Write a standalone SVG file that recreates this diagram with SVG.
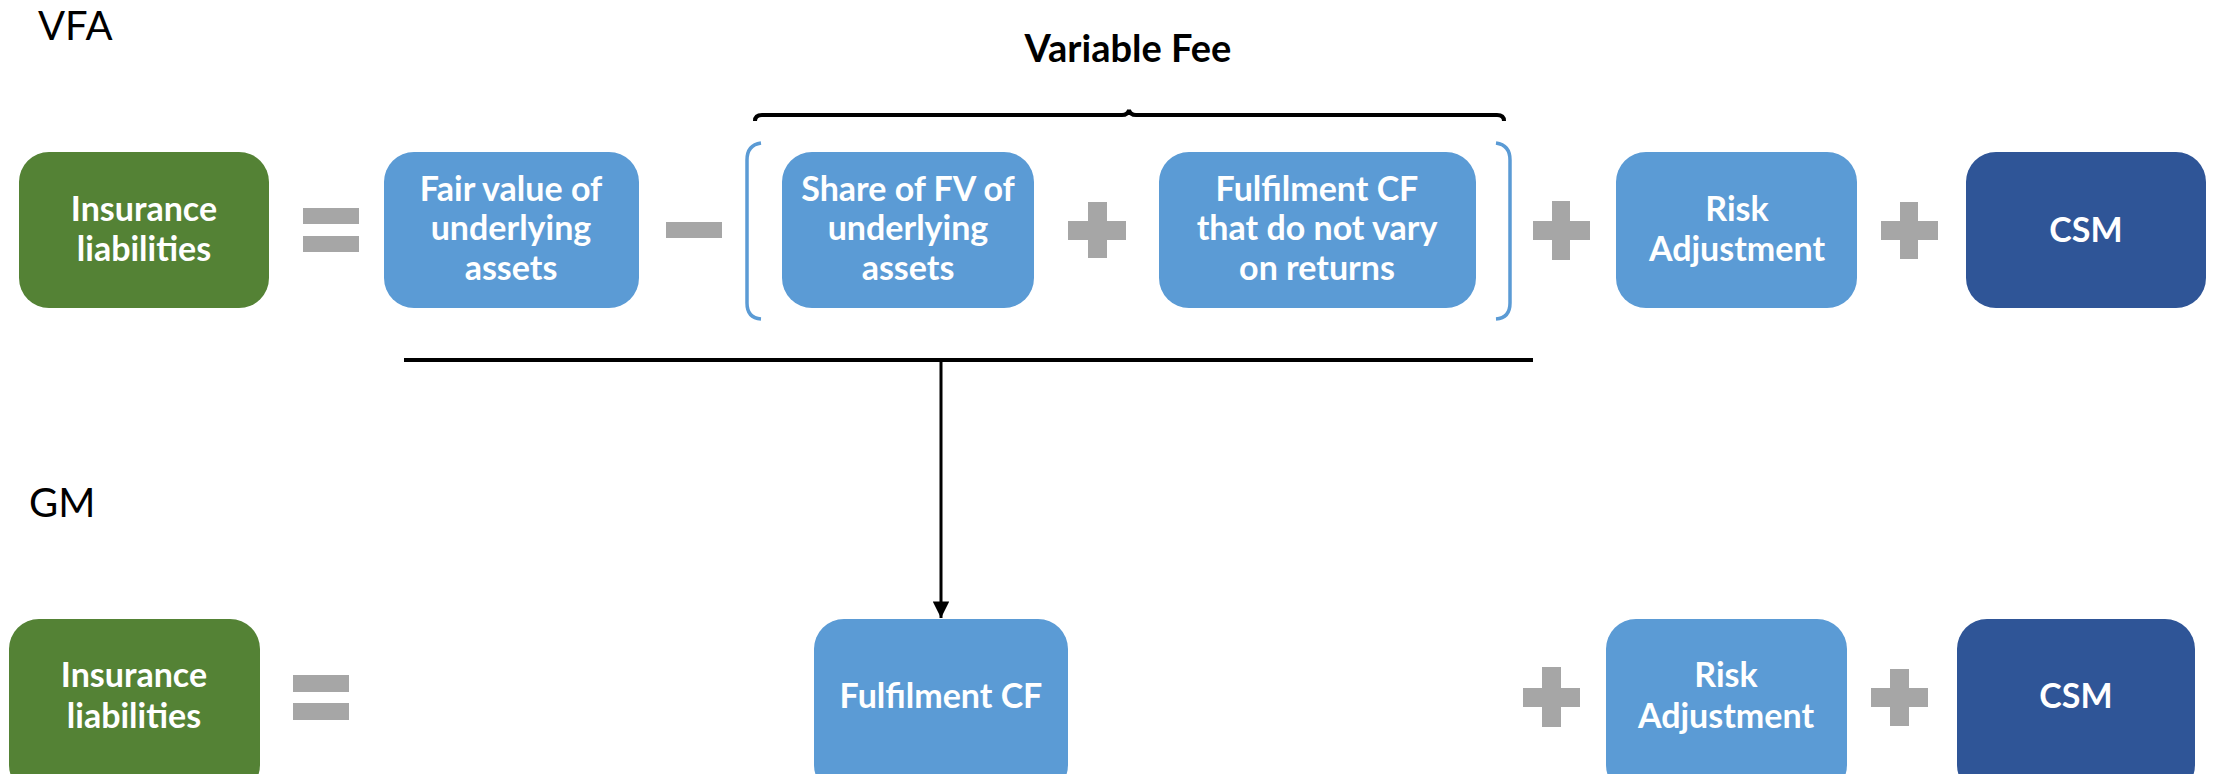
<svg xmlns="http://www.w3.org/2000/svg" width="2215" height="774" viewBox="0 0 2215 774">
  <defs>
    <marker id="arrowHead" viewBox="0 0 10 10" refX="10" refY="5" markerWidth="6" markerHeight="5.5" markerUnits="strokeWidth" orient="auto">
      <path d="M0,0 L10,5 L0,10 Z" fill="#000"/>
    </marker>
  </defs>
  <style>
    .green { fill: #548235; }
    .light { fill: #5b9bd5; }
    .dark { fill: #2f5597; }
    .op { fill: #a6a6a6; }
    .lbl { font-family: Lato, "Open Sans", "Liberation Sans", sans-serif; font-weight: 700; font-size: 34px; fill: #ffffff; text-anchor: middle; }
    .title { font-family: Lato, "Open Sans", "Liberation Sans", sans-serif; font-size: 40px; fill: #000; }
    .brace { fill: none; stroke: #000; stroke-width: 4; }
    .paren { fill: none; stroke: #5b9bd5; stroke-width: 3.5; }
    .link { fill: none; stroke: #000; stroke-width: 3; }
  </style>

  <rect width="2215" height="774" fill="#ffffff"/>

  <!-- section titles -->
  <text class="title" x="38" y="40">VFA</text>
  <text class="title" x="29" y="517">GM</text>

  <!-- Variable Fee brace and label -->
  <g id="variable-fee">
    <text x="1128" y="62" font-family="Lato, 'Open Sans', 'Liberation Sans', sans-serif" font-weight="700" font-size="38" text-anchor="middle" fill="#000">Variable Fee</text>
    <path class="brace" d="M755,121 Q755,115 762,115 L1122,115 Q1128,115 1129,110 Q1130,115 1136,115 L1497,115 Q1504,115 1504,121"/>
    <path class="paren" d="M761,143 Q747,145 747,160 L747,303 Q747,318 761,319"/>
    <path class="paren" d="M1496,143 Q1510,145 1510,160 L1510,303 Q1510,318 1496,319"/>
  </g>

  <!-- VFA row -->
  <g id="vfa-liabilities">
    <rect class="green" x="19" y="152" width="250" height="156" rx="30"/>
    <text class="lbl" x="144" y="221">Insurance</text>
    <text class="lbl" x="144" y="261">liabilities</text>
  </g>
  <g id="vfa-eq" class="op">
    <rect x="303" y="208" width="56" height="16"/>
    <rect x="303" y="236" width="56" height="16"/>
  </g>
  <g id="vfa-fv-assets">
    <rect class="light" x="384" y="152" width="255" height="156" rx="30"/>
    <text class="lbl" x="511" y="201">Fair value of</text>
    <text class="lbl" x="511" y="240">underlying</text>
    <text class="lbl" x="511" y="280">assets</text>
  </g>
  <g id="vfa-minus" class="op">
    <rect x="666" y="222" width="56" height="16"/>
  </g>
  <g id="vfa-share-fv">
    <rect class="light" x="782" y="152" width="252" height="156" rx="30"/>
    <text class="lbl" x="908" y="201">Share of FV of</text>
    <text class="lbl" x="908" y="240">underlying</text>
    <text class="lbl" x="908" y="280">assets</text>
  </g>
  <g id="vfa-plus1" class="op">
    <rect x="1088" y="202" width="19" height="56"/>
    <rect x="1068" y="221" width="58" height="19"/>
  </g>
  <g id="vfa-fulfilment-cf">
    <rect class="light" x="1159" y="152" width="317" height="156" rx="30"/>
    <text class="lbl" x="1317" y="201">Fulfilment CF</text>
    <text class="lbl" x="1317" y="240">that do not vary</text>
    <text class="lbl" x="1317" y="280">on returns</text>
  </g>
  <g id="vfa-plus2" class="op">
    <rect x="1552" y="201" width="18" height="59"/>
    <rect x="1533" y="221" width="57" height="19"/>
  </g>
  <g id="vfa-risk-adjustment">
    <rect class="light" x="1616" y="152" width="241" height="156" rx="30"/>
    <text class="lbl" x="1737" y="221">Risk</text>
    <text class="lbl" x="1737" y="261">Adjustment</text>
  </g>
  <g id="vfa-plus3" class="op">
    <rect x="1900" y="202" width="18" height="57"/>
    <rect x="1881" y="221" width="57" height="19"/>
  </g>
  <g id="vfa-csm">
    <rect class="dark" x="1966" y="152" width="240" height="156" rx="30"/>
    <text class="lbl" x="2086" y="242">CSM</text>
  </g>

  <!-- GM row -->
  <g id="gm-liabilities">
    <rect class="green" x="9" y="619" width="251" height="176" rx="30"/>
    <text class="lbl" x="134" y="687">Insurance</text>
    <text class="lbl" x="134" y="728">liabilities</text>
  </g>
  <g id="gm-eq" class="op">
    <rect x="293" y="675" width="56" height="17"/>
    <rect x="293" y="703" width="56" height="17"/>
  </g>
  <g id="gm-fulfilment-cf">
    <rect class="light" x="814" y="619" width="254" height="176" rx="30"/>
    <text class="lbl" x="941" y="708">Fulfilment CF</text>
  </g>
  <g id="gm-plus1" class="op">
    <rect x="1542" y="667" width="19" height="60"/>
    <rect x="1523" y="688" width="57" height="19"/>
  </g>
  <g id="gm-risk-adjustment">
    <rect class="light" x="1606" y="619" width="241" height="176" rx="30"/>
    <text class="lbl" x="1726" y="687">Risk</text>
    <text class="lbl" x="1726" y="728">Adjustment</text>
  </g>
  <g id="gm-plus2" class="op">
    <rect x="1890" y="669" width="19" height="57"/>
    <rect x="1871" y="688" width="57" height="19"/>
  </g>
  <g id="gm-csm">
    <rect class="dark" x="1957" y="619" width="238" height="176" rx="30"/>
    <text class="lbl" x="2076" y="708">CSM</text>
  </g>

  <!-- connectors -->
  <g id="connectors">
    <line x1="404" y1="360" x2="1533" y2="360" stroke="#000" stroke-width="4"/>
    <line class="link" x1="941" y1="360" x2="941" y2="618" marker-end="url(#arrowHead)"/>
  </g>
</svg>
